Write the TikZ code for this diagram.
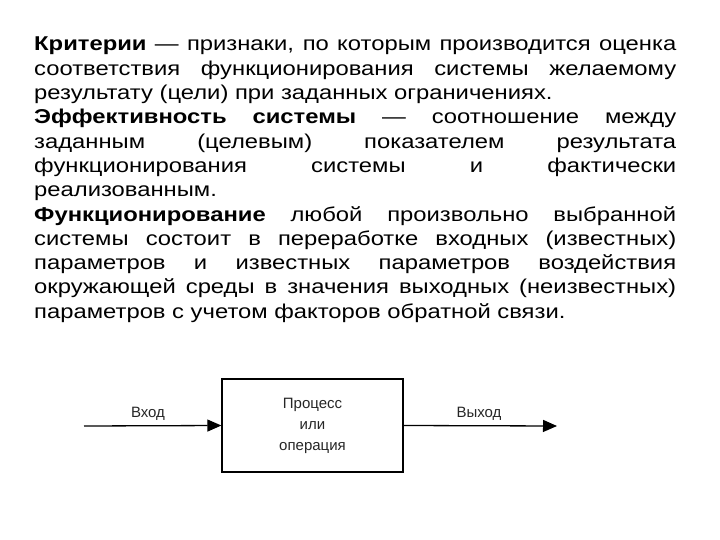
\documentclass[tikz,border=0pt]{standalone}
\usepackage{fontspec}
\setmainfont{Liberation Sans}
\newfontfamily\widefont[FakeStretch=1.19]{Liberation Sans}
\usetikzlibrary{arrows.meta}
\begin{document}
\begin{tikzpicture}[x=1pt,y=-1pt,
  lbl/.style={font=\fontsize{15}{21}\selectfont, text=black!85},
  flow/.style={line width=1.3pt,-{Triangle[length=14pt,width=12pt]}}]
\useasboundingbox (0,0) rectangle (720,540);
\node[anchor=north west, inner sep=0, text width=642pt, align=justify,
  font=\widefont\fontsize{20}{24.3}\selectfont] (txt) at (34,37) {%
\textbf{Критерии} — признаки, по которым производится оценка\linebreak
соответствия функционирования системы желаемому\linebreak
результату (цели) при заданных ограничениях.\par
\textbf{Эффективность системы} — соотношение между\linebreak
заданным (целевым) показателем результата\linebreak
функционирования системы и фактически\linebreak
реализованным.\par
\textbf{Функционирование} любой произвольно выбранной\linebreak
системы состоит в переработке входных (известных)\linebreak
параметров и известных параметров воздействия\linebreak
окружающей среды в значения выходных (неизвестных)\linebreak
параметров с учетом факторов обратной связи.};
\node[draw, line width=1.3pt, minimum width=181pt, minimum height=93pt,
  align=center, lbl] (box) at (312.5,425.5) {Процесс\\или\\операция};
\coordinate (in) at (84,426);
\coordinate (out) at (557,426);
\draw[flow] (in) -- (box.west);
\draw[flow] (box.east) -- (out);
\node[lbl] (vin) at (148,414) {Вход};
\node[lbl] (vout) at (479,414) {Выход};
\end{tikzpicture}
\end{document}
